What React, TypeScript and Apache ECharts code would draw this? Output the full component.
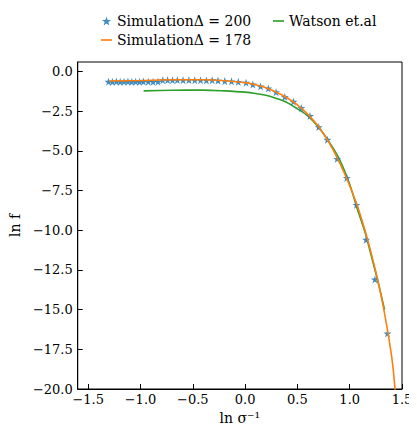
import React, { useEffect, useRef } from "react";
import * as echarts from "echarts";

const starX = [-1.306, -1.269, -1.231, -1.194, -1.157, -1.12, -1.083, -1.046, -1.009, -0.972, -0.926, -0.88, -0.833, -0.787, -0.741, -0.694, -0.648, -0.593, -0.537, -0.481, -0.426, -0.37, -0.315, -0.259, -0.194, -0.13, -0.065, 0.009, 0.074, 0.148, 0.222, 0.296, 0.38, 0.463, 0.537, 0.62, 0.704, 0.787, 0.88, 0.972, 1.065, 1.157, 1.241, 1.361];
const starY = [-0.64, -0.65, -0.63, -0.65, -0.64, -0.63, -0.65, -0.64, -0.65, -0.63, -0.64, -0.65, -0.64, -0.55, -0.54, -0.55, -0.54, -0.55, -0.54, -0.55, -0.55, -0.56, -0.55, -0.57, -0.6, -0.62, -0.65, -0.7, -0.82, -0.94, -1.07, -1.3, -1.6, -1.9, -2.3, -2.8, -3.5, -4.3, -5.5, -6.7, -8.4, -10.6, -13.1, -16.5];

const orangeX = [-1.3, -1.0, -0.7, -0.4, -0.2, 0.0, 0.1, 0.2, 0.3, 0.4, 0.5, 0.6, 0.7, 0.8, 0.9, 1.0, 1.1, 1.2, 1.3, 1.4, 1.44];
const orangeY = [-0.6, -0.57, -0.52, -0.52, -0.58, -0.7, -0.83, -1.02, -1.3, -1.65, -2.1, -2.7, -3.45, -4.45, -5.7, -7.2, -9.0, -11.3, -14.1, -17.9, -20.5];

const greenX = [-0.97, -0.7, -0.4, -0.2, 0.0, 0.1, 0.2, 0.3, 0.4, 0.5, 0.6, 0.7, 0.8, 0.9, 1.0, 1.065, 1.15, 1.21, 1.28, 1.333];
const greenY = [-1.22, -1.18, -1.17, -1.22, -1.3, -1.38, -1.5, -1.7, -1.95, -2.35, -2.8, -3.5, -4.4, -5.5, -7.1, -8.5, -10.2, -11.7, -13.5, -15.0];

const xTicks = [-1.5, -1.0, -0.5, 0.0, 0.5, 1.0, 1.5];
const yTicks = [0, -2.5, -5, -7.5, -10, -12.5, -15, -17.5, -20];

const NAME_A = "SimulationΔ = 200";
const NAME_B = "SimulationΔ = 178";
const NAME_C = "Watson et.al";

const STAR = "path://M10,0 L12.245,6.91 L19.51,6.91 L13.633,11.18 L15.878,18.09 L10,13.82 L4.122,18.09 L6.367,11.18 L0.49,6.91 L7.755,6.91 Z";
const LINE_ICON = "path://M0,0 L12,0 L12,1.8 L0,1.8 Z";

const FONT = "'DejaVu Serif', 'Liberation Serif', serif";
const fmt = (v: number) => (v < 0 ? "\u2212" : "") + Math.abs(v).toFixed(1);

export default function App() {
  const ref = useRef<HTMLDivElement>(null);
  useEffect(() => {
    if (!ref.current) return;
    const chart = echarts.init(ref.current, null, { renderer: "svg" });
    const pairs = (xs: number[], ys: number[]) => xs.map((x, i) => [x, ys[i]]);
    chart.setOption({
      animation: false,
      backgroundColor: "#fff",
      textStyle: { fontFamily: FONT },
      legend: [
        {
          orient: "vertical",
          left: 96,
          top: 9,
          itemGap: 5,
          itemWidth: 11,
          itemHeight: 9,
          textStyle: { fontFamily: FONT, fontSize: 14, color: "#000" },
          data: [
            { name: NAME_A, icon: STAR },
            { name: NAME_B, icon: LINE_ICON },
          ],
        },
        {
          orient: "vertical",
          left: 268,
          top: 9,
          itemWidth: 11,
          itemHeight: 9,
          textStyle: { fontFamily: FONT, fontSize: 14, color: "#000" },
          data: [{ name: NAME_C, icon: LINE_ICON }],
        },
      ],
      grid: {
        left: 66,
        right: 15,
        top: 62,
        bottom: 42,
        show: true,
        borderColor: "#000",
        borderWidth: 1,
        backgroundColor: "transparent",
      },
      xAxis: {
        type: "value",
        min: -1.6,
        max: 1.5,
        name: "ln σ⁻¹",
        nameLocation: "middle",
        nameGap: 17,
        nameTextStyle: { fontFamily: FONT, fontSize: 14, color: "#000" },
        axisLine: { show: true, onZero: false, lineStyle: { color: "#000", width: 1 } },
        axisTick: { show: true, inside: true, length: 5, customValues: xTicks, lineStyle: { color: "#000" } },
        axisLabel: { customValues: xTicks, formatter: fmt, color: "#000", fontSize: 13, fontFamily: FONT, margin: 4 },
        splitLine: { show: false },
      },
      yAxis: {
        type: "value",
        min: -20,
        max: 0.6,
        name: "ln f",
        nameLocation: "middle",
        nameRotate: 90,
        nameGap: 46,
        nameTextStyle: { fontFamily: FONT, fontSize: 14, color: "#000" },
        axisLine: { show: true, onZero: false, lineStyle: { color: "#000", width: 1 } },
        axisTick: { show: true, inside: true, length: 5, customValues: yTicks, lineStyle: { color: "#000" } },
        axisLabel: { customValues: yTicks, formatter: fmt, color: "#000", fontSize: 13, fontFamily: FONT, margin: 5 },
        splitLine: { show: false },
      },
      series: [
        {
          name: NAME_A,
          type: "scatter",
          data: pairs(starX, starY),
          symbol: STAR,
          symbolSize: 8,
          itemStyle: { color: "#1f77b4", opacity: 0.85 },
          z: 3,
        },
        {
          name: NAME_B,
          type: "line",
          data: pairs(orangeX, orangeY),
          smooth: 0.3,
          showSymbol: false,
          symbol: "none",
          clip: true,
          lineStyle: { color: "#ff7f0e", width: 1.6 },
          itemStyle: { color: "#ff7f0e" },
          z: 4,
        },
        {
          name: NAME_C,
          type: "line",
          data: pairs(greenX, greenY),
          smooth: 0.3,
          showSymbol: false,
          symbol: "none",
          lineStyle: { color: "#2ca02c", width: 1.6 },
          itemStyle: { color: "#2ca02c" },
          z: 2,
        },
      ],
    });
    return () => chart.dispose();
  }, []);
  return <div ref={ref} style={{ width: 417, height: 431, margin: -8 }} />;
}
